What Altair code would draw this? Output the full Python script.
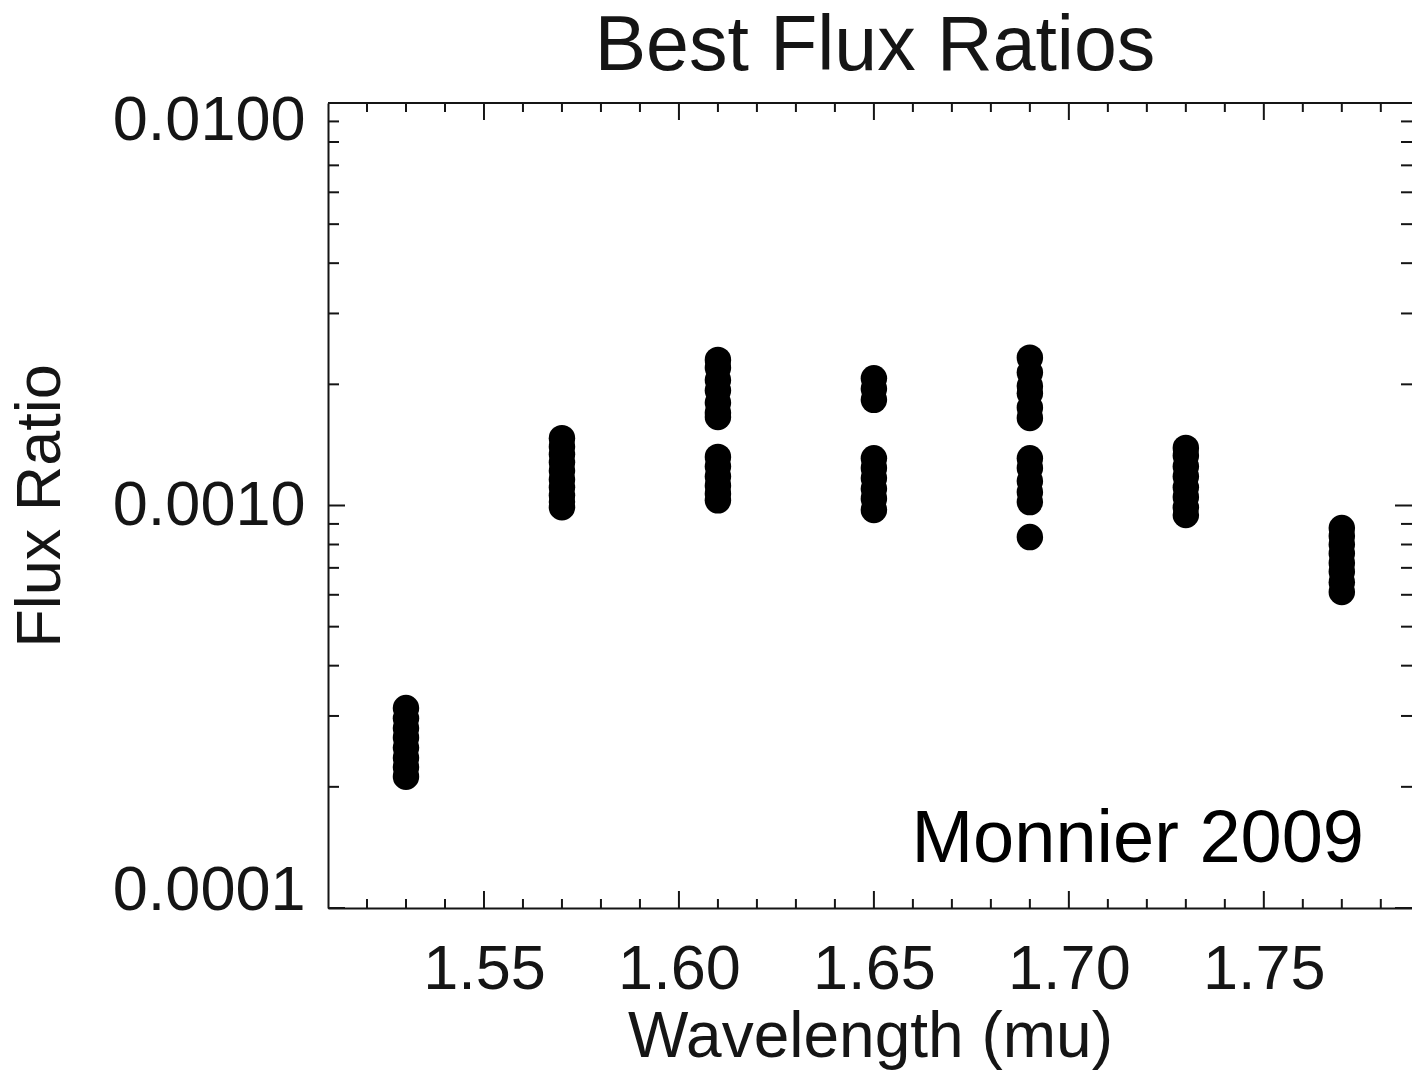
import altair as alt
import pandas as pd

# ---- data (flux ratio values, x1e-3) ----
wl_153 = [0.314, 0.296, 0.280, 0.265, 0.250, 0.236, 0.224, 0.212]
wl_157 = [1.47, 1.40, 1.34, 1.28, 1.22, 1.16, 1.11, 1.06, 1.02, 0.99]
wl_161 = [2.30, 2.20, 2.05, 1.93, 1.80, 1.70, 1.66, 1.32, 1.25, 1.18, 1.12, 1.07, 1.03]
wl_165 = [2.07, 1.95, 1.83, 1.31, 1.24, 1.17, 1.10, 1.04, 0.975]
wl_169 = [2.33, 2.14, 1.98, 1.90, 1.75, 1.65, 1.31, 1.24, 1.15, 1.08, 1.02, 0.835]
wl_173 = [1.39, 1.33, 1.25, 1.18, 1.11, 1.05, 0.99, 0.947]
wl_177 = [0.879, 0.84, 0.80, 0.76, 0.72, 0.685, 0.645, 0.61]

wavelengths = [1.53, 1.57, 1.61, 1.65, 1.69, 1.73, 1.77]
series = [wl_153, wl_157, wl_161, wl_165, wl_169, wl_173, wl_177]

x_major = [1.55, 1.60, 1.65, 1.70, 1.75]
x_minor = [1.52, 1.53, 1.54, 1.56, 1.57, 1.58, 1.59, 1.61, 1.62, 1.63, 1.64,
           1.66, 1.67, 1.68, 1.69, 1.71, 1.72, 1.73, 1.74, 1.76, 1.77, 1.78]
y_major = [0.0001, 0.001, 0.01]
y_minor = [0.0002, 0.0003, 0.0004, 0.0005, 0.0006, 0.0007, 0.0008, 0.0009,
           0.002, 0.003, 0.004, 0.005, 0.006, 0.007, 0.008, 0.009]

rows = []
for w, vals in zip(wavelengths, series):
    for v in vals:
        rows.append({"wl": w, "flux": v * 1e-3})
df = pd.DataFrame(rows)

W, H = 1084, 805
FONT = "Liberation Sans"
INK = "#151515"

xscale = alt.Scale(domain=[1.51, 1.788], nice=False, zero=False)
yscale = alt.Scale(type="log", domain=[0.0001, 0.01], nice=False)

X = alt.X("wl:Q", scale=xscale,
          axis=alt.Axis(values=x_major, format=".2f", ticks=False, tickSize=0,
                        domain=True, domainColor=INK, domainWidth=2, grid=False,
                        labelFontSize=63, labelFont=FONT, labelColor=INK,
                        labelPadding=30, labelLimit=400, title="Wavelength (mu)",
                        titleFontSize=64, titleFont=FONT, titleFontWeight="normal",
                        titleColor=INK, titlePadding=4))
Y = alt.Y("flux:Q", scale=yscale,
          axis=alt.Axis(values=y_major, format=".4f", ticks=False, tickSize=0,
                        domain=True, domainColor=INK, domainWidth=2, grid=False,
                        labelFontSize=63, labelFont=FONT, labelColor=INK,
                        labelPadding=23, labelLimit=400, labelFlush=True,
                        labelFlushOffset=14, title="Flux Ratio",
                        titleFontSize=63, titleFont=FONT, titleFontWeight="normal",
                        titleColor=INK, titlePadding=56))

points = alt.Chart(df).mark_circle(size=700, color="black", opacity=1)

xmaj = pd.DataFrame({"wl": x_major})
xmin = pd.DataFrame({"wl": x_minor})
ymaj = pd.DataFrame({"flux": y_major})
ymin = pd.DataFrame({"flux": y_minor})

tick_style = dict(color=INK, strokeWidth=2)

def xticks(data, length):
    bottom = alt.Chart(data).mark_rule(**tick_style).encode(
        y=alt.value(H), y2=alt.value(H - length))
    top = alt.Chart(data).mark_rule(**tick_style).encode(
        y=alt.value(0), y2=alt.value(length))
    return [bottom, top]

def yticks(data, length):
    left = alt.Chart(data).mark_rule(**tick_style).encode(
        x=alt.value(0), x2=alt.value(length))
    right = alt.Chart(data).mark_rule(**tick_style).encode(
        x=alt.value(W), x2=alt.value(W - length))
    return [left, right]

top_line = alt.Chart(xmaj).mark_rule(**tick_style).encode(
    x=alt.value(0), x2=alt.value(W), y=alt.value(0))

note = alt.Chart(pd.DataFrame({"t": ["Monnier 2009"]})).mark_text(
    font=FONT, fontSize=74, color="black", align="right", baseline="alphabetic"
).encode(x=alt.value(1036), y=alt.value(759), text="t:N")

layers = [points] + xticks(xmaj, 17) + xticks(xmin, 9) + yticks(ymaj, 17) + yticks(ymin, 11) + [top_line, note]

chart = alt.layer(*layers).encode(x=X, y=Y).properties(
    width=W, height=H,
    title=alt.TitleParams("Best Flux Ratios", fontSize=77, font=FONT, fontWeight="normal",
                          color=INK, anchor="middle", frame="group", offset=3, dx=5),
    autosize=alt.AutoSizeParams(type="none"),
    padding={"left": 328, "top": 103, "right": 0, "bottom": 165},
).configure_view(stroke=None).configure(background="white")

chart.save("out.html", embed_options={"renderer": "svg", "actions": False})
